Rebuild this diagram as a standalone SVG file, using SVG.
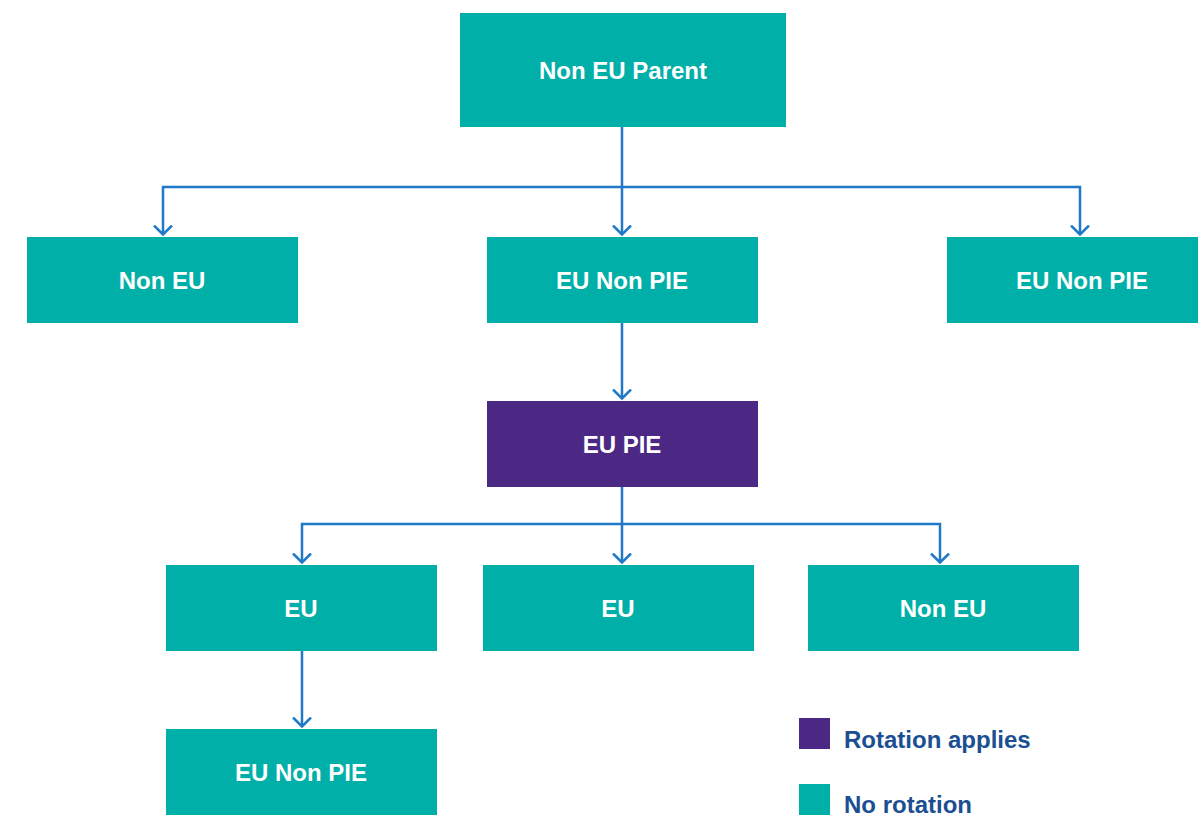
<svg xmlns="http://www.w3.org/2000/svg" width="1198" height="816" viewBox="0 0 1198 816">
<style>
.teal{fill:#00AFA8}
.purple{fill:#4B2884}
.lbl{font-family:"Liberation Sans",Arial,sans-serif;font-weight:bold;font-size:24px;fill:#ffffff;text-anchor:middle}
.leg{font-family:"Liberation Sans",Arial,sans-serif;font-weight:bold;font-size:24px;fill:#1B4F91}
.conn path{fill:none;stroke:#1F78C8;stroke-width:2.5}
</style>
<defs>
<marker id="arr" viewBox="0 0 12 20" refX="10.5" refY="10" markerWidth="12" markerHeight="20" markerUnits="userSpaceOnUse" orient="auto-start-reverse">
<path d="M1,1 L10,10 L1,19" fill="none" stroke="#1F78C8" stroke-width="2.5"/>
</marker>
</defs>
<rect width="1198" height="816" fill="#ffffff"/>
<g class="conn">
<path d="M622,127 V235" marker-end="url(#arr)"/>
<path d="M163,235 V187 H1080 V235" marker-start="url(#arr)" marker-end="url(#arr)"/>
<path d="M622,323 V399" marker-end="url(#arr)"/>
<path d="M622,487 V563" marker-end="url(#arr)"/>
<path d="M302,563 V524 H940 V563" marker-start="url(#arr)" marker-end="url(#arr)"/>
<path d="M302,651 V727" marker-end="url(#arr)"/>
</g>
<g id="n-parent"><rect class="teal" x="460" y="13" width="326" height="114"/><text class="lbl" x="623" y="79">Non EU Parent</text></g>
<g id="n-noneu1"><rect class="teal" x="27" y="237" width="271" height="86"/><text class="lbl" x="162" y="289">Non EU</text></g>
<g id="n-eunonpie1"><rect class="teal" x="487" y="237" width="271" height="86"/><text class="lbl" x="622" y="289">EU Non PIE</text></g>
<g id="n-eunonpie2"><rect class="teal" x="947" y="237" width="251" height="86"/><text class="lbl" x="1082" y="289">EU Non PIE</text></g>
<g id="n-eupie"><rect class="purple" x="487" y="401" width="271" height="86"/><text class="lbl" x="622" y="453">EU PIE</text></g>
<g id="n-eu1"><rect class="teal" x="166" y="565" width="271" height="86"/><text class="lbl" x="301" y="617">EU</text></g>
<g id="n-eu2"><rect class="teal" x="483" y="565" width="271" height="86"/><text class="lbl" x="618" y="617">EU</text></g>
<g id="n-noneu2"><rect class="teal" x="808" y="565" width="271" height="86"/><text class="lbl" x="943" y="617">Non EU</text></g>
<g id="n-eunonpie3"><rect class="teal" x="166" y="729" width="271" height="86"/><text class="lbl" x="301" y="781">EU Non PIE</text></g>
<g id="legend">
<rect class="purple" x="799" y="718" width="31" height="31"/>
<text class="leg" x="844" y="748">Rotation applies</text>
<rect class="teal" x="799" y="784" width="31" height="31"/>
<text class="leg" x="844" y="813">No rotation</text>
</g>
</svg>
